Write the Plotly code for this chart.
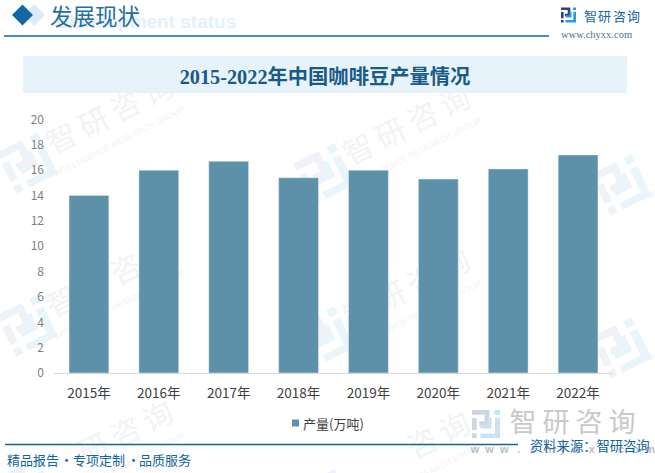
import math
import plotly.graph_objects as go

W = 655
H = 473

# data
years = ["2015年", "2016年", "2017年", "2018年", "2019年", "2020年", "2021年", "2022年"]
output = [14.0, 16.0, 16.7, 15.4, 16.0, 15.3, 16.1, 17.2]
y_ticks = [0, 2, 4, 6, 8, 10, 12, 14, 16, 18, 20]
series_name = "产量(万吨)"
chart_title = "2015-2022年中国咖啡豆产量情况"

BAR = "#5d90a9"
BLUE = "#10659c"
CJK = "Noto Sans CJK SC"

# logo outline, unit square, y down
logo_dark = [
    [(0, 0), (.62, 0), (.62, .56), (.26, .56), (.26, .41), (.45, .41), (.45, .17), (0, .17)],
    [(0, .29), (.17, .29), (.17, .72), (0, .72)],
    [(0, .83), (.17, .83), (.17, 1), (0, 1)],
]
logo_light = [
    [(.8, 0), (1, 0), (1, .17), (.8, .17)],
    [(.82, .28), (1, .28), (1, 1), (.3, 1), (.3, .84), (.82, .84)],
    [(.3, .66), (.7, .66), (.7, .28), (.56, .28), (.56, .52), (.3, .52)],
]


def px(x):
    return x / W


def py(y):
    return 1 - y / H


def poly(points, color):
    path = "M" + " L".join(f"{px(x):.4f},{py(y):.4f}" for x, y in points) + " Z"
    return dict(type="path", xref="paper", yref="paper", path=path,
                fillcolor=color, line_width=0, layer="below")


def logo(cx, cy, size, dark, light, angle=0):
    out = []
    a = math.radians(angle)
    for polys, color in ((logo_dark, dark), (logo_light, light)):
        for p in polys:
            pts = []
            for u, v in p:
                dx, dy = (u - .5) * size, (v - .5) * size
                pts.append((cx + dx * math.cos(a) - dy * math.sin(a),
                            cy + dx * math.sin(a) + dy * math.cos(a)))
            out.append(poly(pts, color))
    return out


def label(x, y, text, size, color, angle=0, family=CJK, weight="normal"):
    # shape label so that the text stays under the bars
    return dict(type="rect", xref="paper", yref="paper",
                x0=px(x - 1), x1=px(x + 1), y0=py(y + 1), y1=py(y - 1),
                line_width=0, fillcolor="rgba(0,0,0,0)", layer="below",
                label=dict(text=text, textangle=angle, textposition="middle center",
                           font=dict(size=size, color=color, family=family, weight=weight)))


def note(x, y, text, size, color, family=CJK, anchor="left"):
    return dict(x=px(x), y=py(y), xref="paper", yref="paper", text=text, showarrow=False,
                xanchor=anchor, yanchor="middle", font=dict(size=size, color=color, family=family))


shapes = []

# watermark grid, only the units that reach into the page
for c in range(3):
    for r in range(0, 3):
        lx = 27 + 297 * c
        ly = 163 + 163 * r + 11 * c
        shapes += logo(lx, ly, 46, "#eff2f6", "#e9f4fb", -26)
        for i, ch in enumerate("智研咨询"):
            cx = lx + 36 + 32 * i
            cy = ly - 22 - 16 * i
            if 12 < cx < W - 12 and 12 < cy < H - 12:
                shapes.append(label(cx, cy, ch, 30, "#f3f3f3", -26))
        shapes.append(label(lx + 92, ly - 22, "INTELLIGENCE RESEARCH GROUP", 8.5, "#f3f3f3", -27,
                            "Liberation Sans"))

# header
shapes.append(poly([(24, 15), (34, 4), (45, 15), (34, 26)], "#dcebf5"))
shapes.append(poly([(12, 15), (22.5, 4.5), (33, 15), (22.5, 25.5)], "#1568a6"))
shapes.append(label(146, 19, "Development status", 19, "#e3f1fb", 0, "Liberation Sans", "bold"))
shapes.append(dict(type="line", xref="paper", yref="paper", x0=px(4), x1=px(549), y0=py(36), y1=py(36),
                   line=dict(color=BLUE, width=1.3), layer="below"))
shapes.append(dict(type="rect", xref="paper", yref="paper", x0=px(23), x1=px(627), y0=py(93), y1=py(56),
                   fillcolor="#e6f3fb", line_width=0, layer="below"))
shapes += logo(568.5, 15, 15, "#2c3f8f", "#2a9bdc")

# footer brand mark
shapes += logo(486, 424, 28, "#cdd5e5", "#c9e3f4")
for i, ch in enumerate("智研咨询"):
    shapes.append(label(523 + 33 * i, 424, ch, 27, "#c9c9c9"))
for i, ch in enumerate("www.chyxx.com"):
    shapes.append(label(475 + 14.6 * i, 448, ch, 11, "#bdbdbd", 0, "Liberation Sans", "bold"))
shapes.append(dict(type="line", xref="paper", yref="paper", x0=px(5), x1=px(518), y0=py(444.5), y1=py(444.5),
                   line=dict(color=BLUE, width=1.3), layer="below"))

# legend key
shapes.append(dict(type="rect", xref="paper", yref="paper", x0=px(292), x1=px(299), y0=py(426.5), y1=py(419.5),
                   fillcolor=BAR, line_width=0, layer="below"))

annotations = [
    note(48, 15, "发展现状", 22.5, "#1f6fa5"),
    note(5, 459, "精品报告", 13, BLUE),
    note(66, 459, "·", 13, BLUE, anchor="center"),
    note(71, 459, "专项定制", 13, BLUE),
    note(133, 459, "·", 13, BLUE, anchor="center"),
    note(137, 459, "品质服务", 13, BLUE),
    note(528, 445, "资料来源：智研咨询", 13.3, BLUE),
    note(559, 35, "www.chyxx.com", 10.5, "#4a7396", "Liberation Serif"),
    note(301, 423, series_name, 13, "#404040"),
]
for i, ch in enumerate("智研咨询"):
    annotations.append(note(590 + 14.6 * i, 15, ch, 13, "#1668a0", anchor="center"))

fig = go.Figure()
fig.add_trace(go.Bar(x=years, y=output, name=series_name, marker_color=BAR, width=0.57))

fig.update_layout(
    width=W, height=H,
    margin=dict(l=0, r=0, t=0, b=0, autoexpand=False),
    autosize=False,
    showlegend=False,
    paper_bgcolor="white",
    plot_bgcolor="rgba(0,0,0,0)",
    title=dict(text=chart_title, x=325 / W, y=py(77), xanchor="center", yanchor="middle",
               font=dict(size=20.3, color="#1a5a86", family="Liberation Serif, " + CJK, weight="bold")),
    shapes=shapes,
    annotations=annotations,
    xaxis=dict(domain=[px(54), px(613)], showgrid=False, zeroline=False, showline=True,
               linecolor="#d9d9d9", linewidth=1, ticks="", ticklabelstandoff=8,
               tickfont=dict(size=13.5, color="#404040", family=CJK)),
    yaxis=dict(domain=[py(373), py(119.5)], range=[0, 20], tickvals=y_ticks, showgrid=False,
               zeroline=False, showline=False, ticks="", ticklabelstandoff=9,
               tickfont=dict(size=12, color="#808080", family=CJK)),
)

fig.write_html("out.html", config={"displayModeBar": False},
               post_script="document.body.style.margin='0';")
